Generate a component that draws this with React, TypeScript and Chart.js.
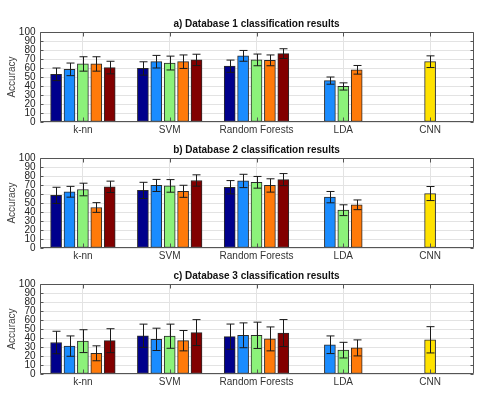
import React, { useEffect, useRef } from "react";
import { Chart, registerables } from "chart.js";
Chart.register(...registerables);

const categories = ["k-nn", "SVM", "Random Forests", "LDA", "CNN"];
const seriesColors = ["#00008c", "#1a8cff", "#8cf27a", "#ff7a0a", "#820000", "#ffe200"];
const yTickValues = [0, 10, 20, 30, 40, 50, 60, 70, 80, 90, 100];
const N = null;

// Database 1 (means and half-width of error bars)
const db1Navy = [53, 59.5, 62, N, N];
const db1Blue = [58.5, 67, 73.5, 46, N];
const db1Green = [64.5, 65.5, 69, 39.5, N];
const db1Orange = [64.5, 67, 68.5, 58, N];
const db1DarkRed = [60.5, 69, 76, N, N];
const db1Yellow = [N, N, N, N, 67];
const db1NavyErr = [7, 7.4, 6.8, N, N];
const db1BlueErr = [7, 7, 6, 4, N];
const db1GreenErr = [8, 7.7, 6.5, 4, N];
const db1OrangeErr = [8, 7.5, 6, 4.8, N];
const db1DarkRedErr = [7, 6.3, 5.4, N, N];
const db1YellowErr = [N, N, N, N, 6.5];

// Database 2
const db2Navy = [58.5, 64, 67.5, N, N];
const db2Blue = [62.5, 69.5, 74.5, 56.5, N];
const db2Green = [65, 69, 73, 42, N];
const db2Orange = [45, 63, 69.5, 48, N];
const db2DarkRed = [68, 75, 76, N, N];
const db2Yellow = [N, N, N, N, 60.5];
const db2NavyErr = [9, 9, 7.4, N, N];
const db2BlueErr = [6, 6.7, 7.4, 6.3, N];
const db2GreenErr = [7, 7, 6.5, 6, N];
const db2OrangeErr = [5.4, 6.7, 7.4, 5.4, N];
const db2DarkRedErr = [6.3, 6.3, 6.7, N, N];
const db2YellowErr = [N, N, N, N, 7.8];

// Database 3
const db3Navy = [35, 42.5, 41.5, N, N];
const db3Blue = [31, 38.5, 43, 32.5, N];
const db3Green = [36.5, 42, 43, 26.5, N];
const db3Orange = [23, 37, 39, 29, N];
const db3DarkRed = [37, 46, 45.5, N, N];
const db3Yellow = [N, N, N, N, 38];
const db3NavyErr = [12.5, 12.9, 14, N, N];
const db3BlueErr = [11.3, 12.4, 13.8, 9.8, N];
const db3GreenErr = [12.7, 13.4, 14.6, 8.7, N];
const db3OrangeErr = [8.3, 11.3, 13.3, 8.9, N];
const db3DarkRedErr = [13.3, 14.4, 15, N, N];
const db3YellowErr = [N, N, N, N, 14.6];

const panels = [
  {
    title: "a) Database 1 classification results",
    values: [db1Navy, db1Blue, db1Green, db1Orange, db1DarkRed, db1Yellow],
    errors: [db1NavyErr, db1BlueErr, db1GreenErr, db1OrangeErr, db1DarkRedErr, db1YellowErr],
  },
  {
    title: "b) Database 2 classification results",
    values: [db2Navy, db2Blue, db2Green, db2Orange, db2DarkRed, db2Yellow],
    errors: [db2NavyErr, db2BlueErr, db2GreenErr, db2OrangeErr, db2DarkRedErr, db2YellowErr],
  },
  {
    title: "c) Database 3 classification results",
    values: [db3Navy, db3Blue, db3Green, db3Orange, db3DarkRed, db3Yellow],
    errors: [db3NavyErr, db3BlueErr, db3GreenErr, db3OrangeErr, db3DarkRedErr, db3YellowErr],
  },
];

const FONT = "'Liberation Sans', Arial, Helvetica, sans-serif";

const overlayPlugin = {
  id: "overlay",
  afterDatasetsDraw(chart: any) {
    const { ctx, chartArea: a, scales } = chart;
    const x = scales.x;
    const y = scales.y;
    ctx.save();
    // error bars
    ctx.strokeStyle = "#1a1a1a";
    ctx.lineWidth = 1;
    chart.data.datasets.forEach((ds: any, di: number) => {
      const meta = chart.getDatasetMeta(di);
      meta.data.forEach((el: any, i: number) => {
        const v = ds.data[i];
        const e = ds.errors[i];
        if (v == null || e == null) return;
        const px = Math.round(el.x) + 0.5;
        const yt = y.getPixelForValue(v + e);
        const yb = y.getPixelForValue(v - e);
        const cap = 4;
        ctx.beginPath();
        ctx.moveTo(px, yt);
        ctx.lineTo(px, yb);
        ctx.moveTo(px - cap, yt);
        ctx.lineTo(px + cap, yt);
        ctx.moveTo(px - cap, yb);
        ctx.lineTo(px + cap, yb);
        ctx.stroke();
      });
    });
    // frame and inward ticks
    ctx.strokeStyle = "#555555";
    const L = Math.round(a.left) + 0.5;
    const R = Math.round(a.right) - 0.5;
    const T = Math.round(a.top) + 0.5;
    const B = Math.round(a.bottom) - 0.5;
    ctx.beginPath();
    ctx.rect(L, T, R - L, B - T);
    yTickValues.forEach((v) => {
      const py = Math.round(y.getPixelForValue(v)) + 0.5;
      ctx.moveTo(L, py);
      ctx.lineTo(L + 3, py);
      ctx.moveTo(R, py);
      ctx.lineTo(R - 3, py);
    });
    categories.forEach((_, i) => {
      const px = Math.round(x.getPixelForValue(i)) + 0.5;
      ctx.moveTo(px, T);
      ctx.lineTo(px, T + 4);
      ctx.moveTo(px, B);
      ctx.lineTo(px, B - 4);
    });
    ctx.stroke();
    ctx.restore();
  },
};

function Panel({ panel, top }: { panel: any; top: number }) {
  const ref = useRef<HTMLCanvasElement>(null);
  useEffect(() => {
    const chart = new Chart(ref.current as HTMLCanvasElement, {
      type: "bar",
      data: {
        labels: categories,
        datasets: panel.values.map((vals: any, i: number) => ({
          data: vals,
          errors: panel.errors[i],
          backgroundColor: seriesColors[i],
          borderColor: "#2a2a2a",
          borderWidth: 1,
          borderSkipped: false,
          skipNull: true,
          barThickness: 13.4,
          maxBarThickness: 11,
        })) as any,
      },
      options: {
        responsive: false,
        animation: false,
        devicePixelRatio: 1,
        layout: { padding: { left: 0, right: 3.5, top: 0, bottom: 0 } },
        plugins: {
          legend: { display: false },
          tooltip: { enabled: false },
          title: {
            display: true,
            text: panel.title,
            fullSize: false,
            color: "#111",
            font: { family: FONT, size: 10, weight: "bold" },
            padding: { top: 18, bottom: 2 },
          } as any,
        },
        scales: {
          x: {
            grid: { offset: false, color: "#e3e3e3", drawTicks: false },
            border: { display: false },
            ticks: { color: "#333", font: { family: FONT, size: 10 }, padding: 2, maxRotation: 0, autoSkip: false },
            afterFit: (s: any) => { s.height = 12; },
          },
          y: {
            min: 0,
            max: 100,
            grid: { color: "#e3e3e3", drawTicks: false },
            border: { display: false },
            ticks: { stepSize: 10, autoSkip: false, color: "#222", font: { family: FONT, size: 10 }, padding: 4 },
            title: {
              display: true,
              text: "Accuracy",
              color: "#444",
              font: { family: FONT, size: 10 },
              padding: { top: 6, bottom: 0 },
            },
            afterFit: (s: any) => { s.width = 39.5; },
          },
        },
      } as any,
      plugins: [overlayPlugin],
    });
    return () => chart.destroy();
  }, [panel]);
  return (
    <canvas
      ref={ref}
      width={477}
      height={134}
      style={{ position: "absolute", left: 0, top, width: 477, height: 134 }}
    />
  );
}

export default function App() {
  return (
    <div style={{ position: "fixed", left: 0, top: 0, width: 477, height: 393, background: "#fff" }}>
      {panels.map((p, i) => (
        <Panel key={i} panel={p} top={126 * i} />
      ))}
    </div>
  );
}
